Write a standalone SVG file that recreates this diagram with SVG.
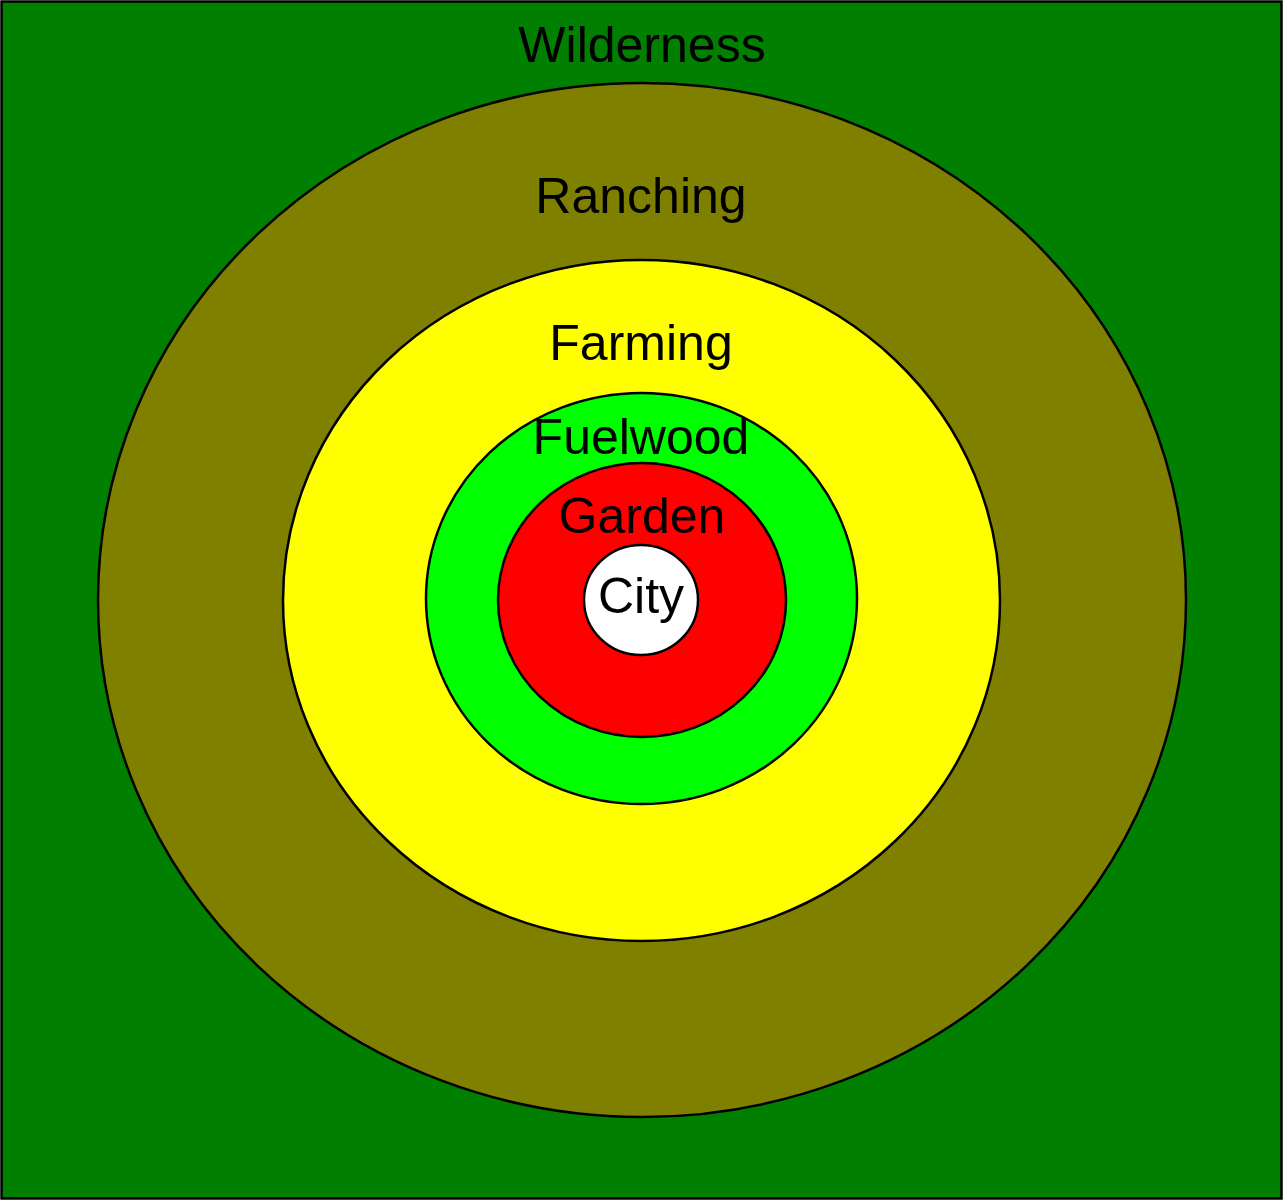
<svg xmlns="http://www.w3.org/2000/svg" width="1283" height="1200" viewBox="0 0 1283 1200">
<style>
.z{stroke:#000;stroke-width:2.5}
.t{font-family:"Liberation Sans",Arial,sans-serif;font-size:50px;text-anchor:middle;fill:#000}
</style>
<g id="wilderness"><rect class="z" x="1.5" y="1.5" width="1280" height="1197" fill="#007f00"/><text class="t" x="642" y="62">Wilderness</text></g>
<g id="ranching"><ellipse class="z" cx="642" cy="600" rx="544" ry="517" fill="#7f7f00"/><text class="t" x="641" y="213">Ranching</text></g>
<g id="farming"><ellipse class="z" cx="641.5" cy="600.5" rx="358.5" ry="340.5" fill="#ffff00"/><text class="t" x="641" y="360">Farming</text></g>
<g id="fuelwood"><ellipse class="z" cx="641.5" cy="598.5" rx="215.5" ry="205.5" fill="#00ff00"/><text class="t" x="641" y="454">Fuelwood</text></g>
<g id="garden"><ellipse class="z" cx="642" cy="600" rx="144" ry="137" fill="#ff0000"/><text class="t" x="642" y="533">Garden</text></g>
<g id="city"><ellipse class="z" cx="641" cy="600" rx="57" ry="55" fill="#ffffff"/><text class="t" x="641" y="613">City</text></g>
<g id="connectors"/>
</svg>
